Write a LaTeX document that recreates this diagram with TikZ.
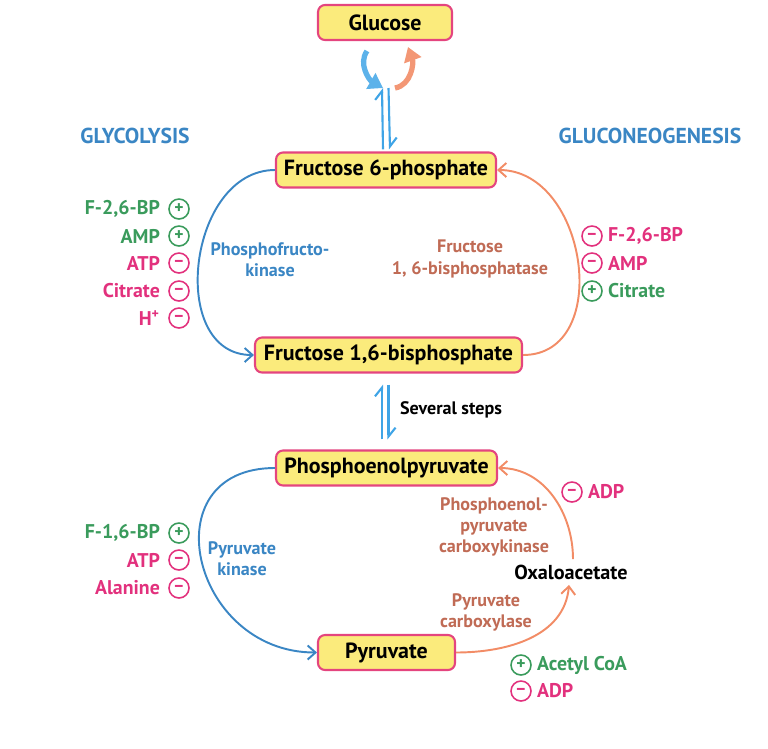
\documentclass[tikz,border=0pt]{standalone}
\usepackage{fontspec}
\setmainfont{PT Sans}
\usetikzlibrary{positioning}
\usetikzlibrary{arrows.meta}

\definecolor{boxfill}{HTML}{FBEB7C}
\definecolor{boxedge}{HTML}{E4457F}
\definecolor{glyblue}{HTML}{3A86C4}
\definecolor{neosalmon}{HTML}{F28C66}
\definecolor{neobrown}{HTML}{C06B55}
\definecolor{actgreen}{HTML}{3A9B5C}
\definecolor{inhpink}{HTML}{E2317D}
\definecolor{harpblue}{HTML}{3FA4E6}

\tikzset{
  metab/.style={draw=boxedge,fill=boxfill,line width=1.2pt,rounded corners=4pt,
    minimum height=0.7cm,inner sep=1pt,font=\bfseries\fontsize{12.5}{14}\selectfont},
  glyarc/.style={glyblue,line width=1.1pt,-{Straight Barb[length=4.5pt,width=8pt]}},
  neoarc/.style={neosalmon,line width=1.1pt,-{Straight Barb[length=4.5pt,width=8pt]}},
  enzgly/.style={text=glyblue,align=center,font=\bfseries\fontsize{10.3}{12}\selectfont},
  enzneo/.style={text=neobrown,align=center,font=\bfseries\fontsize{10.3}{12}\selectfont},
  pathname/.style={text=glyblue,font=\bfseries\fontsize{12.3}{14}\selectfont},
  actg/.style={text=actgreen,inner sep=1pt,font=\bfseries\fontsize{11.3}{13}\selectfont},
  inhp/.style={text=inhpink,inner sep=1pt,font=\bfseries\fontsize{11.3}{13}\selectfont},
  plusg/.style={circle,draw=actgreen,text=actgreen,line width=0.9pt,minimum size=0.4cm,
    inner sep=0pt,font=\bfseries\fontsize{10}{10}\selectfont},
  minusp/.style={circle,draw=inhpink,text=inhpink,line width=0.9pt,minimum size=0.4cm,
    inner sep=0pt,font=\bfseries\fontsize{10}{10}\selectfont},
  harp/.style={harpblue,line width=1.2pt},
}

\begin{document}
\begin{tikzpicture}[x=0.02cm,y=0.02cm]
 \useasboundingbox (0,0) rectangle (768,-748);
 % metabolites
 \node[metab,minimum width=2.68cm] (glc) at (385,-22.5) {Glucose};
 \node[metab,minimum width=4.4cm] (f6p) at (386,-170) {Fructose 6-phosphate};
 \node[metab,minimum width=5.34cm] (fbp) at (388.5,-355) {Fructose 1,6-bisphosphate};
 \node[metab,minimum width=4.42cm] (pep) at (386.5,-468) {Phosphoenolpyruvate};
 \node[metab,minimum width=2.74cm] (pyr) at (386.5,-652.5) {Pyruvate};
 \node[font=\bfseries\fontsize{11.5}{13}\selectfont,inner ysep=3pt] (oxa) at (571,-572) {Oxaloacetate};

 \node[pathname] (glyname) at (135,-136) {GLYCOLYSIS};
 \node[pathname] (neoname) at (650,-136) {GLUCONEOGENESIS};

 % glucose cycle
 \coordinate (eqtop) at (385,-88);
 \coordinate (gbl) at (367,-51);
 \coordinate (gsr) at (408,-47);
 \draw[harpblue!85,line width=3pt,-{Triangle[length=8pt,width=10pt]}] (gbl) to[out=235,in=150] ([xshift=-0.04cm]eqtop);
 \draw[neosalmon!90,line width=3pt,-{Triangle[length=8pt,width=10pt]}] ([xshift=0.2cm]eqtop) to[out=10,in=-70] (gsr);
 \draw[harp,-{Straight Barb[harpoon,length=5pt,width=8pt]}] ([xshift=-0.06cm,yshift=0.04cm]f6p.north) -- ([xshift=-0.06cm]eqtop);
 \draw[harp,-{Straight Barb[harpoon,length=5pt,width=8pt]}] ([xshift=0.07cm]eqtop) -- ([xshift=0.08cm,yshift=0.04cm]f6p.north);

 % several steps
 \draw[harp,shorten <=0.2cm,shorten >=0.22cm,-{Straight Barb[harpoon,length=5pt,width=8pt]}] ([xshift=-0.09cm]pep.north) -- ([xshift=-0.09cm]pep.north |- fbp.south);
 \draw[harp,shorten <=0.22cm,shorten >=0.2cm,-{Straight Barb[harpoon,length=5pt,width=8pt]}] ([xshift=0.04cm]pep.north |- fbp.south) -- ([xshift=0.04cm]pep.north);
 \node[font=\bfseries\fontsize{10.3}{12}\selectfont] (steps) at (451,-410) {Several steps};

 % upper cycle
 \draw[glyarc] (f6p.west) to[out=180,in=180,looseness=1.2] (fbp.west);
 \draw[neoarc] (fbp.east) to[out=0,in=0,looseness=1.24] (f6p.east);
 \node[enzgly] (pfk) at (270,-260) {Phosphofructo-\\kinase};
 \node[enzneo] (fbpase) at (470,-259) {Fructose\\1, 6-bisphosphatase};

 \node[actg,anchor=east] (pfka) at (162,-209) {F-2,6-BP};
 \node[plusg] (pfkas) at (179,-209) {+};
 \node[actg,anchor=east] (pfkb) at (162,-236) {AMP};
 \node[plusg] (pfkbs) at (179,-236) {+};
 \node[inhp,anchor=east] (pfkc) at (162,-263) {ATP};
 \node[minusp] (pfkcs) at (179,-263) {–};
 \node[inhp,anchor=east] (pfkd) at (162,-291) {Citrate};
 \node[minusp] (pfkds) at (179,-291) {–};
 \node[inhp,anchor=east] (pfke) at (162,-318) {H\textsuperscript{+}};
 \node[minusp] (pfkes) at (179,-318) {–};

 \node[minusp] (fbpas) at (592,-236) {–};
 \node[inhp,anchor=west] (fbpa) at (606,-236) {F-2,6-BP};
 \node[minusp] (fbpbs) at (592,-263) {–};
 \node[inhp,anchor=west] (fbpb) at (606,-263) {AMP};
 \node[plusg] (fbpcs) at (592,-291) {+};
 \node[actg,anchor=west] (fbpc) at (606,-291) {Citrate};

 % lower cycle
 \draw[glyarc] (pep.west) to[out=180,in=180,looseness=1.7] (pyr.west);
 \draw[neoarc] (pyr.east) to[out=0,in=-95] ([xshift=-0.04cm]oxa.south);
 \draw[neoarc] ([xshift=0.04cm]oxa.north) to[out=90,in=0] (pep.east);
 \node[enzgly] (pk) at (242,-559) {Pyruvate\\kinase};
 \node[enzneo] (pepck) at (494,-527) {Phosphoenol-\\pyruvate\\carboxykinase};
 \node[enzneo] (pc) at (486,-612) {Pyruvate\\carboxylase};

 \node[actg,anchor=east] (pka) at (162,-533) {F-1,6-BP};
 \node[plusg] (pkas) at (179,-533) {+};
 \node[inhp,anchor=east] (pkb) at (162,-560) {ATP};
 \node[minusp] (pkbs) at (179,-560) {–};
 \node[inhp,anchor=east] (pkc) at (162,-588) {Alanine};
 \node[minusp] (pkcs) at (179,-588) {–};

 \node[minusp] (pepcks) at (572,-492) {–};
 \node[inhp,anchor=west] (pepcka) at (586,-492) {ADP};
 \node[plusg] (pcas) at (521,-665) {+};
 \node[actg,anchor=west] (pca) at (535,-665) {Acetyl CoA};
 \node[minusp] (pcbs) at (521,-691) {–};
 \node[inhp,anchor=west] (pcb) at (535,-691) {ADP};
\end{tikzpicture}
\end{document}
